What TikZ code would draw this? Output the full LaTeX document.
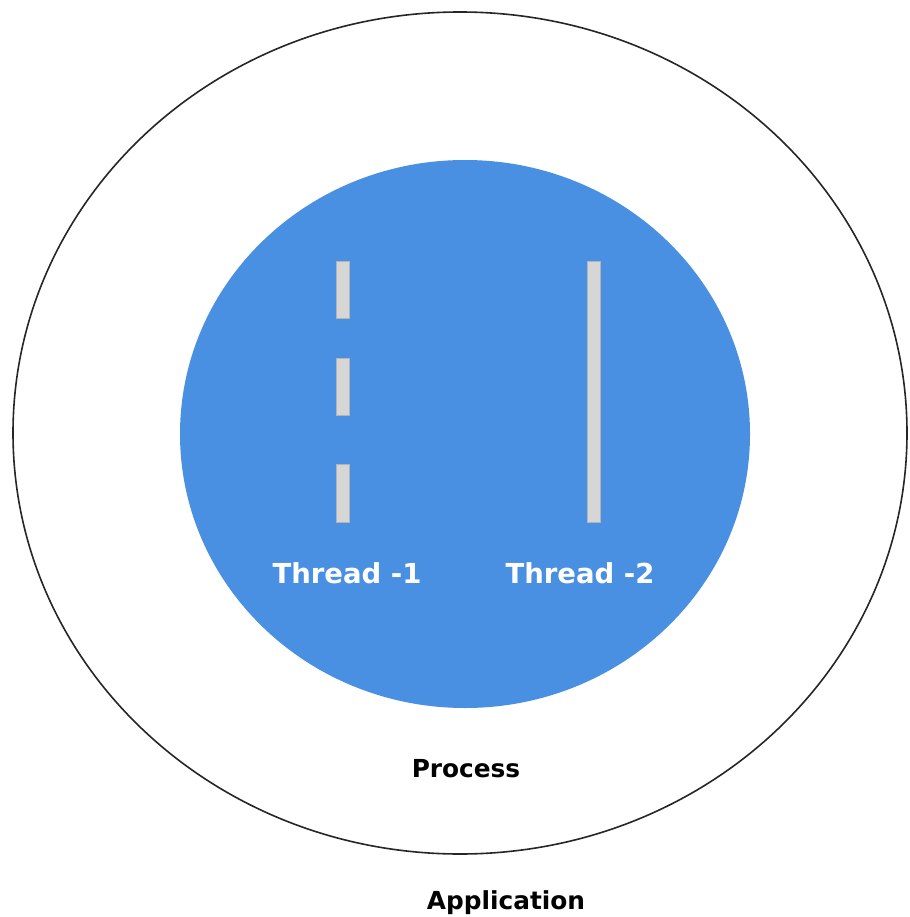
\documentclass[tikz,border=0pt]{standalone}
\usepackage{fontspec}
\setmainfont{DejaVu Sans}
\definecolor{procblue}{RGB}{74,144,226}
\definecolor{bargray}{RGB}{214,214,214}
\definecolor{baredge}{RGB}{180,180,180}
\tikzset{
  bar/.style={fill=bargray, draw=baredge, line width=0.8pt},
  lbl/.style={font=\bfseries\fontsize{27.5}{30}\selectfont, inner sep=0pt, anchor=base},
  blk/.style={lbl, text=black, font=\bfseries\fontsize{24.8}{28}\selectfont},
}
\begin{document}
\begin{tikzpicture}[x=1pt,y=-1pt]
\useasboundingbox (0,0) rectangle (909,917);
% application (outer ellipse)
\draw[line width=1.6pt, black!85] (460,433) ellipse [x radius=447, y radius=421];
% process (blue circle)
\fill[procblue] (465,434) ellipse [x radius=285, y radius=274];
% thread 1 (dashed)
\draw[bar] (336,261) rectangle (349,318);
\draw[bar] (336,358) rectangle (349,415);
\draw[bar] (336,464) rectangle (349,522);
% thread 2 (solid)
\draw[bar] (587,261) rectangle (600,522);
% labels
\node[lbl, text=white] (t1) at (347,583) {Thread -1};
\node[lbl, text=white] (t2) at (580,583) {Thread -2};
\node[blk] (proc) at (466,777) {Process};
\node[blk] (app) at (506,909) {Application};
\end{tikzpicture}
\end{document}
